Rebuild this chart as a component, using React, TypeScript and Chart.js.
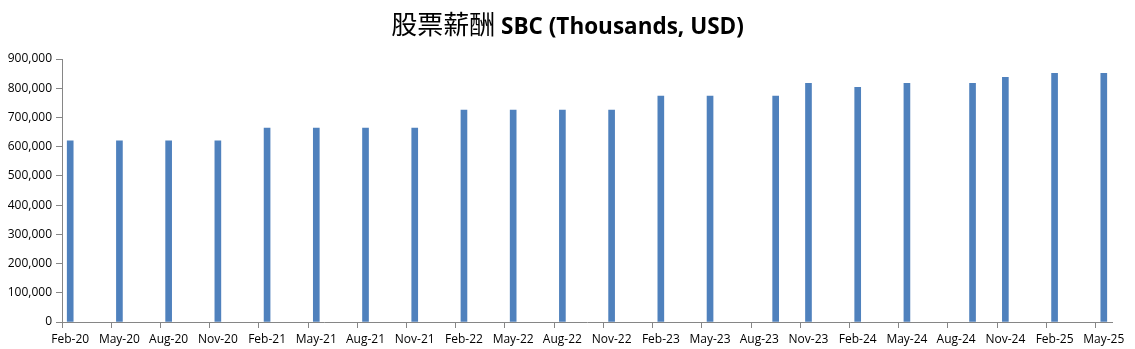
import React, { useEffect, useRef } from 'react';
import { Chart, registerables } from 'chart.js';

Chart.register(...registerables);

const TITLE_CJK = '股票薪酬';
const TITLE_LATIN = 'SBC (Thousands, USD)';

const MONTH_NAMES = ['Jan', 'Feb', 'Mar', 'Apr', 'May', 'Jun', 'Jul', 'Aug', 'Sep', 'Oct', 'Nov', 'Dec'];
const AXIS_START = { year: 2020, month: 1 }; // Feb-20
const AXIS_END = { year: 2025, month: 4 }; // May-25
const LABEL_EVERY = 3;

const periods = [
  'Feb-20', 'May-20', 'Aug-20', 'Nov-20',
  'Feb-21', 'May-21', 'Aug-21', 'Nov-21',
  'Feb-22', 'May-22', 'Aug-22', 'Nov-22',
  'Feb-23', 'May-23', 'Sep-23', 'Nov-23',
  'Feb-24', 'May-24', 'Sep-24', 'Nov-24',
  'Feb-25', 'May-25',
];

const sbcValues = [
  620000, 620000, 620000, 620000,
  664000, 664000, 664000, 664000,
  725000, 725000, 725000, 725000,
  773000, 773000, 773000, 817000,
  803000, 817000, 817000, 837000,
  851000, 851000,
];

const Y_MIN = 0;
const Y_MAX = 900000;
const Y_STEP = 100000;

function buildMonths(): string[] {
  const out: string[] = [];
  let y = AXIS_START.year;
  let m = AXIS_START.month;
  while (y < AXIS_END.year || (y === AXIS_END.year && m <= AXIS_END.month)) {
    out.push(`${MONTH_NAMES[m]}-${String(y % 100).padStart(2, '0')}`);
    m++;
    if (m > 11) { m = 0; y++; }
  }
  return out;
}

const AXIS_GRAY = '#868686';

const titlePlugin = {
  id: 'twoFontTitle',
  afterDraw(chart: any) {
    const ctx = chart.ctx as CanvasRenderingContext2D;
    ctx.save();
    const cjkFont = '26px "Noto Sans CJK TC"';
    const latFont = 'bold 22.5px "Open Sans"';
    ctx.font = cjkFont;
    const w1 = ctx.measureText(TITLE_CJK).width;
    ctx.font = latFont;
    const sp = ctx.measureText(' ').width;
    const w2 = ctx.measureText(TITLE_LATIN).width;
    const total = w1 + sp + w2;
    const x0 = chart.width / 2 - total / 2;
    const baseline = 34;
    ctx.fillStyle = '#000';
    ctx.textBaseline = 'alphabetic';
    ctx.textAlign = 'left';
    ctx.font = cjkFont;
    ctx.fillText(TITLE_CJK, x0, baseline);
    ctx.font = latFont;
    ctx.fillText(TITLE_LATIN, x0 + w1 + sp, baseline);
    ctx.restore();
  },
};

export default function App() {
  const canvasRef = useRef<HTMLCanvasElement | null>(null);

  useEffect(() => {
    if (!canvasRef.current) return;
    const months = buildMonths();
    const data = periods.map((p, i) => ({ x: p, y: sbcValues[i] }));
    const tickFont = { family: '"Open Sans"', size: 12 };

    const chart = new Chart(canvasRef.current, {
      type: 'bar',
      data: {
        labels: months,
        datasets: [
          {
            data: data as any,
            backgroundColor: '#4F81BD',
            borderWidth: 0,
            barThickness: 6,
          },
        ],
      },
      plugins: [titlePlugin],
      options: {
        animation: false,
        responsive: true,
        maintainAspectRatio: false,
        layout: { padding: { top: 59, right: 23, left: 0, bottom: 0 } },
        plugins: {
          legend: { display: false },
          title: { display: false },
          tooltip: { enabled: false },
        },
        scales: {
          x: {
            type: 'category',
            offset: true,
            grid: {
              offset: true,
              drawOnChartArea: false,
              drawTicks: true,
              tickLength: 6,
              tickColor: (ctx: any) => (ctx.index % LABEL_EVERY === 0 ? AXIS_GRAY : 'rgba(0,0,0,0)'),
            },
            border: { color: AXIS_GRAY, width: 1 },
            ticks: {
              autoSkip: false,
              maxRotation: 0,
              minRotation: 0,
              padding: 4,
              color: '#000',
              font: tickFont,
              callback: (_v: any, i: number) => (i % LABEL_EVERY === 0 ? months[i] : ''),
            },
            afterFit: (scale: any) => { scale.height = 27; },
          },
          y: {
            min: Y_MIN,
            max: Y_MAX,
            grid: {
              drawOnChartArea: false,
              drawTicks: true,
              tickLength: 6,
              color: AXIS_GRAY,
            },
            border: { color: AXIS_GRAY, width: 1 },
            ticks: {
              stepSize: Y_STEP,
              padding: 4,
              color: '#000',
              font: tickFont,
              callback: (v: any) => Number(v).toLocaleString('en-US'),
            },
            afterFit: (scale: any) => { scale.width = 62; },
          },
        },
      },
    });
    return () => chart.destroy();
  }, []);

  return (
    <div style={{ position: 'fixed', left: 0, top: 0, width: 1135, height: 349, background: '#fff' }}>
      <canvas ref={canvasRef} />
    </div>
  );
}
